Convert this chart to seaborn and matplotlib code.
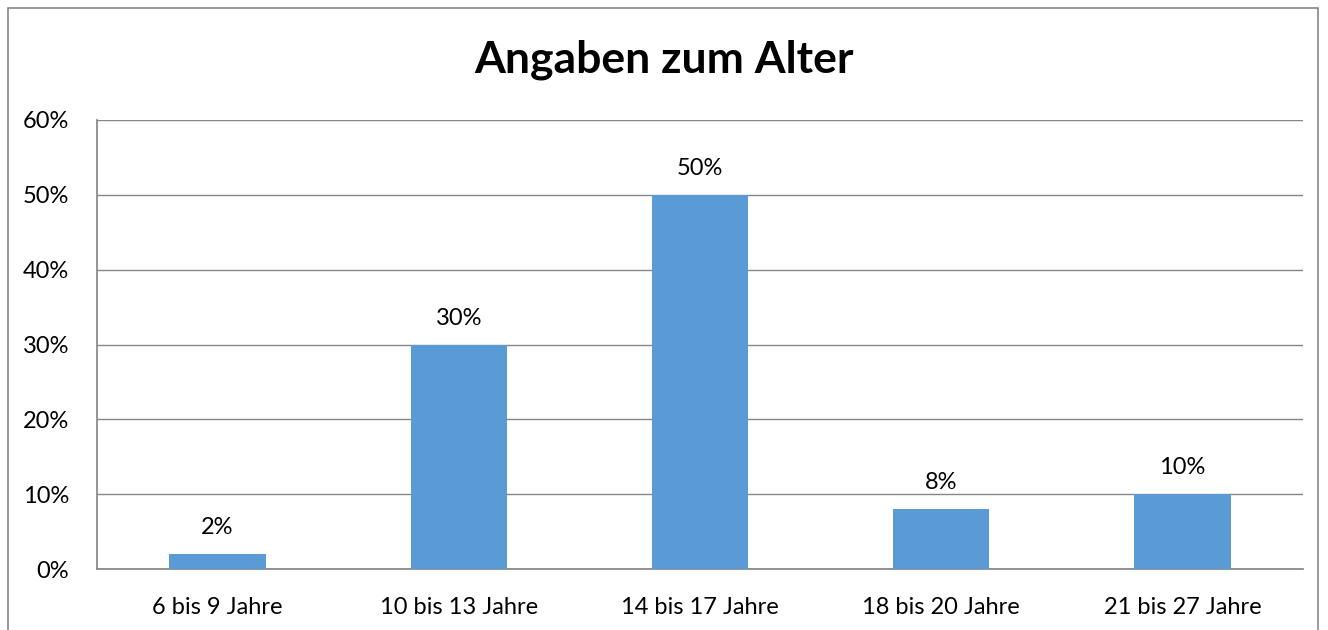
import matplotlib
matplotlib.use("Agg")
import matplotlib.pyplot as plt
import seaborn as sns
import pandas as pd
from matplotlib.patches import Rectangle

categories = ["6 bis 9 Jahre", "10 bis 13 Jahre", "14 bis 17 Jahre", "18 bis 20 Jahre", "21 bis 27 Jahre"]
shares = [0.02, 0.30, 0.50, 0.08, 0.10]
y_ticks = [0.0, 0.1, 0.2, 0.3, 0.4, 0.5, 0.6]
title = "Angaben zum Alter"

df = pd.DataFrame({"Alter": categories, "Anteil": shares})

sns.set_theme(style="white")
plt.rcParams["font.family"] = ["Lato", "DejaVu Sans"]

W, H = 1328, 630
fig = plt.figure(figsize=(W / 100, H / 100), dpi=100)
ax = fig.add_axes([97 / W, 1 - 569 / H, (1303 - 97) / W, (569 - 120) / H])

# outer chart frame like the office export
fig.patches.append(Rectangle((8 / W, -0.1), (1318 - 8) / W, 1.1 - 8 / H,
                             transform=fig.transFigure, fill=False,
                             edgecolor="#878787", linewidth=1.2))

sns.barplot(data=df, x="Alter", y="Anteil", color="#5B9BD5", width=0.4,
            saturation=1, linewidth=0, ax=ax, zorder=3)

ax.set_ylim(0, 0.6)
ax.set_xlim(-0.5, len(categories) - 0.5)
ax.set_yticks(y_ticks)
ax.set_yticklabels([f"{int(round(t * 100))}%" for t in y_ticks])
ax.yaxis.grid(True, color="#868686", linewidth=1.0, zorder=0)
ax.xaxis.grid(False)
ax.set_xlabel("")
ax.set_ylabel("")
ax.tick_params(axis="both", length=0, labelsize=17, colors="black")
ax.tick_params(axis="x", pad=20)
ax.tick_params(axis="y", pad=20)

for s in ["top", "right"]:
    ax.spines[s].set_visible(False)
ax.spines["left"].set_color("#868686")
ax.spines["bottom"].set_color("#868686")

for i, v in enumerate(shares):
    ax.annotate(f"{int(round(v * 100))}%", (i, v), xytext=(0, 19),
                textcoords="offset points", ha="center", va="center",
                fontsize=17, color="black")

fig.text(0.5, 1 - 60 / H, title, ha="center", va="center",
         fontsize=32, fontweight="bold", color="black")

fig.savefig("out.png", dpi=100)
